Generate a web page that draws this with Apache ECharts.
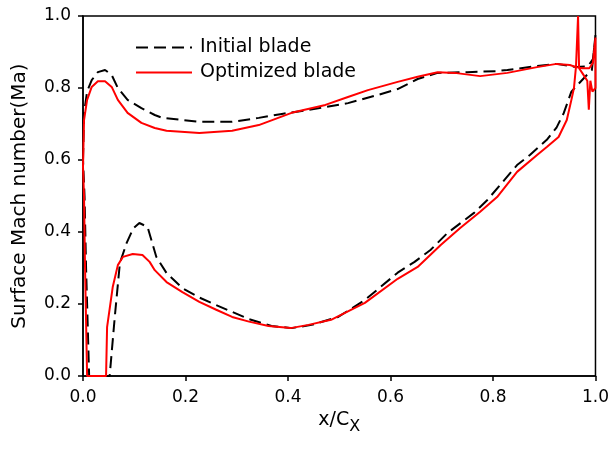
<!DOCTYPE html>
<html>
<head>
<meta charset="utf-8">
<script src="https://cdn.jsdelivr.net/npm/echarts@6/dist/echarts.min.js"></script>
<style>html,body{margin:0;padding:0;background:#fff}#c{width:612px;height:452px}</style>
</head>
<body>
<div id="c"></div>
<script>
// Tick labels
const xTicks = [0.0, 0.2, 0.4, 0.6, 0.8, 1.0];
const yTicks = [0.0, 0.2, 0.4, 0.6, 0.8, 1.0];

// Initial blade (closed loop: leading edge -> suction side -> trailing edge -> pressure side)
const xInitial = [0.0, 0.002, 0.008, 0.017, 0.029, 0.043, 0.056, 0.068, 0.087, 0.114, 0.14, 0.155, 0.227, 0.291, 0.343, 0.388, 0.44, 0.517, 0.576, 0.614, 0.653, 0.692, 0.75, 0.808, 0.828, 0.886, 0.924, 0.963, 0.985, 0.995, 1.0, 0.993, 0.979, 0.953, 0.938, 0.924, 0.905, 0.872, 0.847, 0.822, 0.789, 0.763, 0.711, 0.678, 0.647, 0.614, 0.55, 0.498, 0.446, 0.407, 0.368, 0.324, 0.291, 0.26, 0.227, 0.194, 0.163, 0.143, 0.126, 0.11, 0.098, 0.085, 0.072, 0.062, 0.052, 0.012, 0.006, 0.003, 0.0];
const yInitial = [0.6, 0.73, 0.79, 0.822, 0.844, 0.85, 0.836, 0.80, 0.767, 0.744, 0.725, 0.717, 0.706, 0.706, 0.717, 0.728, 0.739, 0.758, 0.781, 0.797, 0.825, 0.842, 0.844, 0.847, 0.85, 0.861, 0.867, 0.858, 0.86, 0.88, 0.947, 0.85, 0.83, 0.79, 0.73, 0.69, 0.656, 0.614, 0.586, 0.544, 0.489, 0.453, 0.397, 0.35, 0.317, 0.287, 0.211, 0.164, 0.142, 0.133, 0.139, 0.158, 0.178, 0.197, 0.218, 0.244, 0.286, 0.331, 0.414, 0.425, 0.41, 0.369, 0.314, 0.164, 0.0, 0.0, 0.3, 0.5, 0.6];

// Optimized blade
const xOptimized = [0.0, 0.002, 0.008, 0.017, 0.029, 0.043, 0.056, 0.068, 0.087, 0.114, 0.14, 0.163, 0.227, 0.291, 0.343, 0.407, 0.473, 0.517, 0.556, 0.614, 0.653, 0.692, 0.725, 0.775, 0.828, 0.886, 0.924, 0.95, 0.962, 0.975, 0.988, 0.995, 1.0, 1.0, 0.994, 0.99, 0.987, 0.984, 0.975, 0.968, 0.966, 0.962, 0.958, 0.953, 0.944, 0.928, 0.905, 0.886, 0.847, 0.808, 0.775, 0.736, 0.698, 0.653, 0.614, 0.55, 0.484, 0.44, 0.405, 0.362, 0.324, 0.291, 0.26, 0.227, 0.194, 0.163, 0.14, 0.13, 0.116, 0.097, 0.078, 0.068, 0.058, 0.047, 0.045, 0.008, 0.004, 0.002, 0.0];
const yOptimized = [0.58, 0.711, 0.767, 0.803, 0.819, 0.819, 0.803, 0.767, 0.731, 0.703, 0.689, 0.681, 0.675, 0.681, 0.697, 0.731, 0.753, 0.775, 0.794, 0.817, 0.831, 0.844, 0.842, 0.833, 0.842, 0.858, 0.867, 0.864, 0.858, 0.855, 0.855, 0.87, 0.94, 0.80, 0.79, 0.82, 0.74, 0.82, 0.84, 0.855, 1.0, 0.86, 0.80, 0.767, 0.711, 0.664, 0.636, 0.614, 0.567, 0.497, 0.456, 0.411, 0.364, 0.303, 0.27, 0.203, 0.156, 0.142, 0.133, 0.139, 0.151, 0.164, 0.184, 0.206, 0.233, 0.261, 0.294, 0.317, 0.336, 0.339, 0.331, 0.308, 0.247, 0.136, 0.0, 0.0, 0.3, 0.5, 0.58];

const pairs = (xs, ys) => xs.map((x, i) => [x, ys[i]]);
const font = 'DejaVu Sans, sans-serif';

const chart = echarts.init(document.getElementById('c'), null, {renderer: 'canvas'});
chart.setOption({
  animation: false,
  backgroundColor: '#fff',
  grid: {left: 83, right: 13, top: 16, bottom: 76, show: true, borderColor: '#000', borderWidth: 1.5, containLabel: false},
  legend: {
    orient: 'vertical', left: 130, top: 33, itemWidth: 56, itemHeight: 14, itemGap: 6,
    itemStyle: {opacity: 0},
    textStyle: {fontFamily: font, fontSize: 19, color: '#000', padding: [0, 0, 0, 3]},
    data: ['Initial blade', 'Optimized blade']
  },
  xAxis: {
    type: 'value', min: 0, max: 1, interval: 0.2,
    name: '{a|x/C}{b|X}', nameLocation: 'middle', nameGap: 19,
    nameTextStyle: {rich: {
      a: {fontFamily: font, fontSize: 19, color: '#000', lineHeight: 22},
      b: {fontFamily: font, fontSize: 16, color: '#000', padding: [12, 0, 0, 0]}
    }},
    axisLine: {lineStyle: {color: '#000', width: 1.5}},
    axisTick: {show: true, inside: false, length: 5, lineStyle: {color: '#000', width: 1.5}},
    axisLabel: {fontFamily: font, fontSize: 17, color: '#000', margin: 13,
      formatter: v => xTicks.find(t => Math.abs(t - v) < 1e-9).toFixed(1)},
    splitLine: {show: false}
  },
  yAxis: {
    type: 'value', min: 0, max: 1, interval: 0.2,
    name: 'Surface Mach number(Ma)', nameLocation: 'middle', nameGap: 53,
    nameTextStyle: {fontFamily: font, fontSize: 20, color: '#000'},
    axisLine: {lineStyle: {color: '#000', width: 1.5}},
    axisTick: {show: true, inside: false, length: 5, lineStyle: {color: '#000', width: 1.5}},
    axisLabel: {fontFamily: font, fontSize: 17, color: '#000', margin: 12,
      formatter: v => yTicks.find(t => Math.abs(t - v) < 1e-9).toFixed(1)},
    splitLine: {show: false}
  },
  series: [
    {name: 'Initial blade', type: 'line', data: pairs(xInitial, yInitial), symbol: 'none', smooth: false, clip: false,
      lineStyle: {color: '#000', width: 2, type: [12, 6]}, itemStyle: {color: '#000'}},
    {name: 'Optimized blade', type: 'line', data: pairs(xOptimized, yOptimized), symbol: 'none', smooth: false, clip: false,
      lineStyle: {color: '#ff0000', width: 2, type: 'solid'}, itemStyle: {color: '#ff0000'}}
  ]
});
</script>
</body>
</html>
